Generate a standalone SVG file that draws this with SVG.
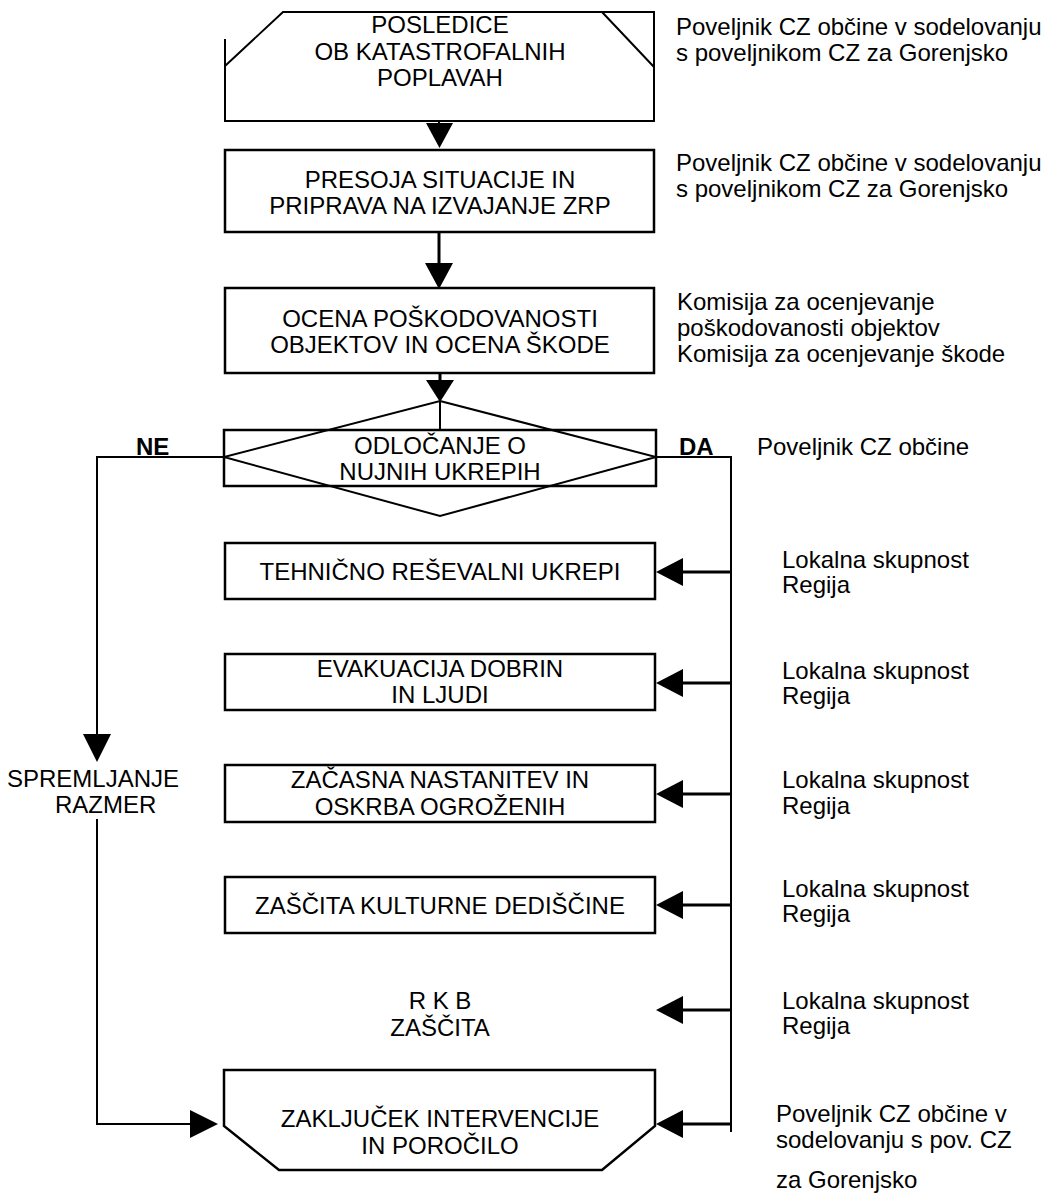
<svg xmlns="http://www.w3.org/2000/svg" width="1047" height="1195" viewBox="0 0 1047 1195">
<style>
text{font-family:"Liberation Sans",Arial,sans-serif;font-size:24px;fill:#000}
.c{text-anchor:middle}
.b{font-weight:bold}
.box{fill:none;stroke:#000;stroke-width:2.5}
.thin{fill:none;stroke:#000;stroke-width:2}
.ln{fill:none;stroke:#000;stroke-width:2}
.lt{fill:none;stroke:#000;stroke-width:3}
.ah{fill:#000;stroke:none}
</style>
<rect width="1047" height="1195" fill="#fff"/>
<g id="n1">
<path class="thin" d="M225,39 V121 H654 V12 H283 L225,66 M602,12 L654,67"/>
<text class="c" x="440" y="33">POSLEDICE</text>
<text class="c" x="440" y="60">OB KATASTROFALNIH</text>
<text class="c" x="440" y="86">POPLAVAH</text>
</g>
<g id="n2">
<rect class="box" x="225" y="150" width="429" height="82"/>
<text class="c" x="440" y="188">PRESOJA SITUACIJE IN</text>
<text class="c" x="440" y="214">PRIPRAVA NA IZVAJANJE ZRP</text>
</g>
<g id="n3">
<rect class="box" x="225" y="288" width="429" height="85"/>
<text class="c" x="440" y="327">OCENA POŠKODOVANOSTI</text>
<text class="c" x="440" y="353">OBJEKTOV IN OCENA ŠKODE</text>
</g>
<g id="n4">
<path class="thin" d="M440,401 L656,457 L440,516 L224,457 Z"/>
<rect class="box" x="224" y="430" width="432" height="56"/>
<text class="c" x="440" y="454">ODLOČANJE O</text>
<text class="c" x="440" y="480">NUJNIH UKREPIH</text>
</g>
<g id="n5">
<rect class="box" x="225" y="543" width="430" height="56"/>
<text class="c" x="440" y="580">TEHNIČNO REŠEVALNI UKREPI</text>
</g>
<g id="n6">
<rect class="box" x="225" y="654" width="430" height="56"/>
<text class="c" x="440" y="677">EVAKUACIJA DOBRIN</text>
<text class="c" x="440" y="703">IN LJUDI</text>
</g>
<g id="n7">
<rect class="box" x="225" y="765" width="430" height="57"/>
<text class="c" x="440" y="788">ZAČASNA NASTANITEV IN</text>
<text class="c" x="440" y="815">OSKRBA OGROŽENIH</text>
</g>
<g id="n8">
<rect class="box" x="225" y="877" width="430" height="56"/>
<text class="c" x="440" y="914">ZAŠČITA KULTURNE DEDIŠČINE</text>
</g>
<g id="n9">
<text class="c" x="440" y="1009">R K B</text>
<text class="c" x="440" y="1036">ZAŠČITA</text>
</g>
<g id="n10">
<path class="box" d="M224,1070 H655 V1126 L602,1170 H279 L224,1126 Z"/>
<text class="c" x="440" y="1127">ZAKLJUČEK INTERVENCIJE</text>
<text class="c" x="440" y="1154">IN POROČILO</text>
</g>
<g id="n11">
<text x="7" y="787">SPREMLJANJE</text>
<text x="55" y="813">RAZMER</text>
</g>
<g id="labels">
<text class="b" x="136" y="455">NE</text>
<text class="b" x="679" y="455">DA</text>
<text x="676" y="35">Poveljnik CZ občine v sodelovanju</text>
<text x="676" y="61">s poveljnikom CZ za Gorenjsko</text>
<text x="676" y="171">Poveljnik CZ občine v sodelovanju</text>
<text x="676" y="197">s poveljnikom CZ za Gorenjsko</text>
<text x="677" y="310">Komisija za ocenjevanje</text>
<text x="677" y="336">poškodovanosti objektov</text>
<text x="677" y="362">Komisija za ocenjevanje škode</text>
<text x="757" y="455">Poveljnik CZ občine</text>
<text x="782" y="568">Lokalna skupnost</text>
<text x="782" y="593">Regija</text>
<text x="782" y="679">Lokalna skupnost</text>
<text x="782" y="704">Regija</text>
<text x="782" y="788">Lokalna skupnost</text>
<text x="782" y="814">Regija</text>
<text x="782" y="897">Lokalna skupnost</text>
<text x="782" y="922">Regija</text>
<text x="782" y="1009">Lokalna skupnost</text>
<text x="782" y="1034">Regija</text>
<text x="776" y="1122">Poveljnik CZ občine v</text>
<text x="776" y="1148">sodelovanju s pov. CZ</text>
<text x="776" y="1188">za Gorenjsko</text>
</g>
<g id="connectors">
<path class="ln" d="M439,120 V124"/>
<polygon class="ah" points="426,123 453,123 439.5,148"/>
<path class="lt" d="M439,232 V264"/>
<polygon class="ah" points="425,263 453,263 439,289"/>
<path class="lt" d="M440,373 V382"/>
<path class="ln" d="M440,400 V430"/>
<polygon class="ah" points="426,380 454,380 440,402"/>
<path class="ln" d="M224,457 H97 V735"/>
<polygon class="ah" points="83,734 111,734 97,762"/>
<path class="ln" d="M97,819 V1124 H191"/>
<polygon class="ah" points="190,1110 190,1138 218,1124"/>
<path class="ln" d="M656,457 H731 V1132"/>
<path class="lt" d="M731,572 H682"/>
<polygon class="ah" points="683,558 683,586 656,572"/>
<path class="lt" d="M731,683 H682"/>
<polygon class="ah" points="683,669 683,697 656,683"/>
<path class="lt" d="M731,794 H682"/>
<polygon class="ah" points="683,780 683,808 656,794"/>
<path class="lt" d="M731,905 H682"/>
<polygon class="ah" points="683,891 683,919 656,905"/>
<path class="lt" d="M731,1010 H682"/>
<polygon class="ah" points="683,996 683,1024 656,1010"/>
<path class="lt" d="M731,1124 H682"/>
<polygon class="ah" points="683,1110 683,1138 656,1124"/>
</g>
</svg>
